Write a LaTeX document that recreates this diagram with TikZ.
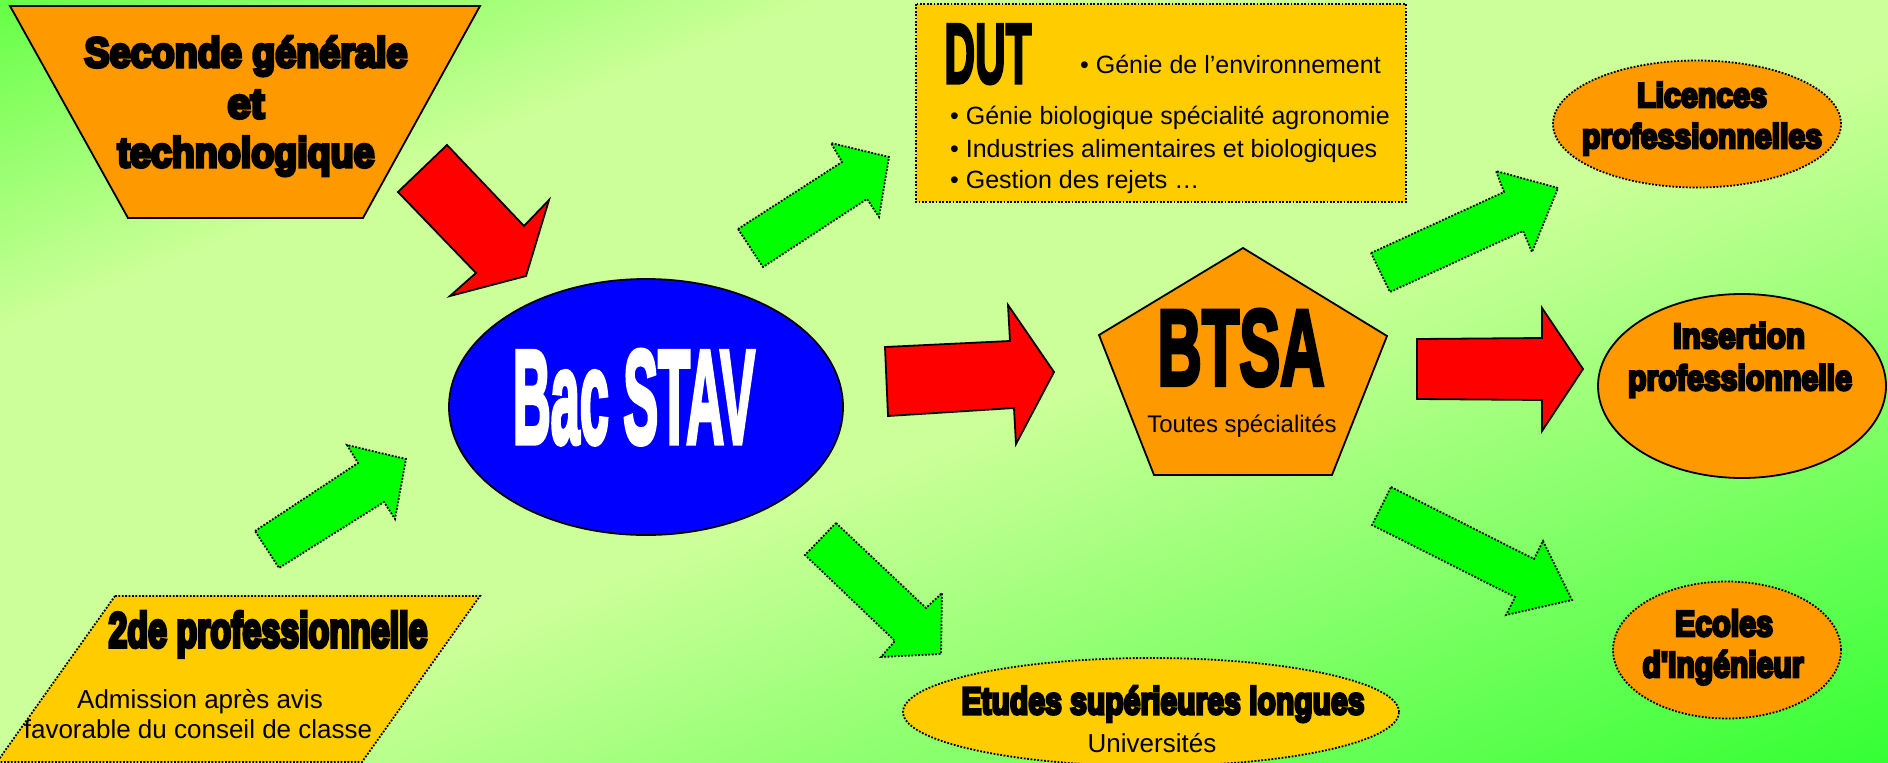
\documentclass[tikz,border=0pt]{standalone}
\usepackage{fontspec}
\setmainfont{Liberation Sans}
\newfontfamily\heavyfont{Liberation Sans}[FakeBold=8]
\newfontfamily\condfont{Liberation Sans}[FakeBold=4]
\usepackage{graphicx}
\usetikzlibrary{shapes.geometric}
\definecolor{gTL}{RGB}{100,255,70}
\definecolor{pale}{RGB}{204,255,153}
\definecolor{gBR}{RGB}{51,255,51}
\definecolor{orangeF}{RGB}{255,153,0}
\definecolor{goldF}{RGB}{255,204,0}
\definecolor{redF}{RGB}{255,0,0}
\definecolor{greenF}{RGB}{0,255,0}
\definecolor{blueF}{RGB}{0,0,255}
\pgfdeclarehorizontalshading{bgsh}{100bp}{color(0bp)=(gTL); color(25bp)=(gTL); color(36bp)=(pale); color(52bp)=(pale); color(75bp)=(gBR); color(100bp)=(gBR)}
\newcommand{\hvtext}[3]{\resizebox{#1pt}{\height}{\heavyfont\bfseries\fontsize{#2pt}{#2pt}\selectfont #3}}
\newcommand{\cdtext}[3]{\resizebox{#1pt}{\height}{\condfont\bfseries\fontsize{#2pt}{#2pt}\selectfont #3}}
\tikzset{
  solidb/.style={draw=black, line width=1.8pt, line join=miter},
  dotb/.style={draw=black, line width=1.8pt, dash pattern=on 1.8pt off 1.6pt},
  redarrow/.style={solidb, fill=redF},
  greenarrow/.style={dotb, fill=greenF},
  txt/.style={anchor=base, inner sep=0pt},
  txtw/.style={anchor=base west, inner sep=0pt},
}
\begin{document}
\begin{tikzpicture}[x=1pt, y=-1pt]
\useasboundingbox (0,0) rectangle (1888,763);
% background
\begin{scope}
\clip (0,0) rectangle (1888,763);
\begin{scope}[transform canvas={rotate around={-68:(944,381)}}]
\shade[shading=bgsh] (234,-800) rectangle (1654,1600);
\end{scope}
\end{scope}

% shapes
\draw[solidb, fill=orangeF] (10,6) -- (480,6) -- (363,218) -- (128,218) -- cycle;
\draw[dotb, fill=goldF] (115,596) -- (480,596) -- (362,762) -- (-3,762) -- cycle;
\draw[dotb, fill=goldF] (916,4) rectangle (1406,202);
\draw[solidb, fill=orangeF] (1243,248) -- (1387,336) -- (1332,475) -- (1154,475) -- (1099,335) -- cycle;
\node[ellipse, solidb, fill=blueF, minimum width=394pt, minimum height=256pt, inner sep=0pt] (bac) at (646,407) {};
\node[ellipse, dotb, fill=goldF, minimum width=496pt, minimum height=108pt, inner sep=0pt] (etu) at (1151,712) {};
\node[ellipse, dotb, fill=orangeF, minimum width=288pt, minimum height=127pt, inner sep=0pt] (lic) at (1697,124) {};
\node[ellipse, solidb, fill=orangeF, minimum width=288pt, minimum height=184pt, inner sep=0pt] (ins) at (1742,386) {};
\node[ellipse, dotb, fill=orangeF, minimum width=228pt, minimum height=137pt, inner sep=0pt] (eco) at (1727,650) {};

% block arrows
\draw[redarrow] (447,145) -- (524,226) -- (549,200) -- (526,276) -- (450,296) -- (476,273) -- (398,192) -- cycle;
\draw[greenarrow] (738,229) -- (842,162) -- (831,143) -- (889,157) -- (879,217) -- (867,199) -- (763,267) -- cycle;
\draw[greenarrow] (255,531) -- (358,463) -- (347,445) -- (406,459) -- (395,519) -- (384,502) -- (279,568) -- cycle;
\draw[redarrow] (885,347) -- (1010,341) -- (1008,305) -- (1054,372) -- (1016,444) -- (1014,408) -- (888,416) -- cycle;
\draw[greenarrow] (836,523) -- (926,608) -- (942,593) -- (941,654) -- (881,657) -- (895,641) -- (805,555) -- cycle;
\draw[greenarrow] (1371,253) -- (1504,192) -- (1496,171) -- (1558,188) -- (1532,252) -- (1523,231) -- (1390,292) -- cycle;
\draw[redarrow] (1417,339) -- (1542,338) -- (1542,308) -- (1583,369) -- (1542,431) -- (1542,400) -- (1417,399) -- cycle;
\draw[greenarrow] (1391,487) -- (1534,559) -- (1543,541) -- (1572,600) -- (1506,615) -- (1515,597) -- (1372,525) -- cycle;

% texts
\node[txt] (sec1) at (246,67) {\hvtext{323}{42}{Seconde générale}};
\node[txt] (sec2) at (246,118) {\hvtext{37}{42}{et}};
\node[txt] (sec3) at (246,167) {\hvtext{257}{42}{technologique}};

\node[txt] (pro1) at (268,647) {\hvtext{319}{49}{2de professionnelle}};
\node[txt, font=\fontsize{26pt}{30pt}\selectfont] (pro2) at (200,708) {Admission après avis};
\node[txt, font=\fontsize{26pt}{30pt}\selectfont] (pro3) at (198,738) {favorable du conseil de classe};

\node[txt, text=white] (bactxt) at (634,443) {\cdtext{242}{133}{Bac STAV}};

\node[txt] (dut) at (988,83) {\cdtext{87}{85}{DUT}};
\node[txtw, font=\fontsize{25pt}{30pt}\selectfont] (d1) at (1080,73) {• Génie de l’environnement};
\node[txtw, font=\fontsize{25pt}{30pt}\selectfont] (d2) at (950,124) {• Génie biologique spécialité agronomie};
\node[txtw, font=\fontsize{25pt}{30pt}\selectfont] (d3) at (950,157) {• Industries alimentaires et biologiques};
\node[txtw, font=\fontsize{25pt}{30pt}\selectfont] (d4) at (950,188) {• Gestion des rejets …};

\node[txt] (btsa) at (1241,385) {\cdtext{167}{108}{BTSA}};
\node[txt, font=\fontsize{24pt}{28pt}\selectfont] (btsa2) at (1242,432) {Toutes spécialités};

\node[txt] (etu1) at (1163,714) {\hvtext{403}{38}{Etudes supérieures longues}};
\node[txt, font=\fontsize{26pt}{30pt}\selectfont] (etu2) at (1152,752) {Universités};

\node[txt] (lic1) at (1702,107) {\hvtext{130}{34}{Licences}};
\node[txt] (lic2) at (1702,148) {\hvtext{240}{34}{professionnelles}};

\node[txt] (ins1) at (1739,348) {\hvtext{132}{35}{Insertion}};
\node[txt] (ins2) at (1740,390) {\hvtext{224}{35}{professionnelle}};

\node[txt] (eco1) at (1724,636) {\hvtext{98}{36}{Ecoles}};
\node[txt] (eco2) at (1723,677) {\hvtext{161}{36}{d\char"27 Ingénieur}};
\end{tikzpicture}
\end{document}
